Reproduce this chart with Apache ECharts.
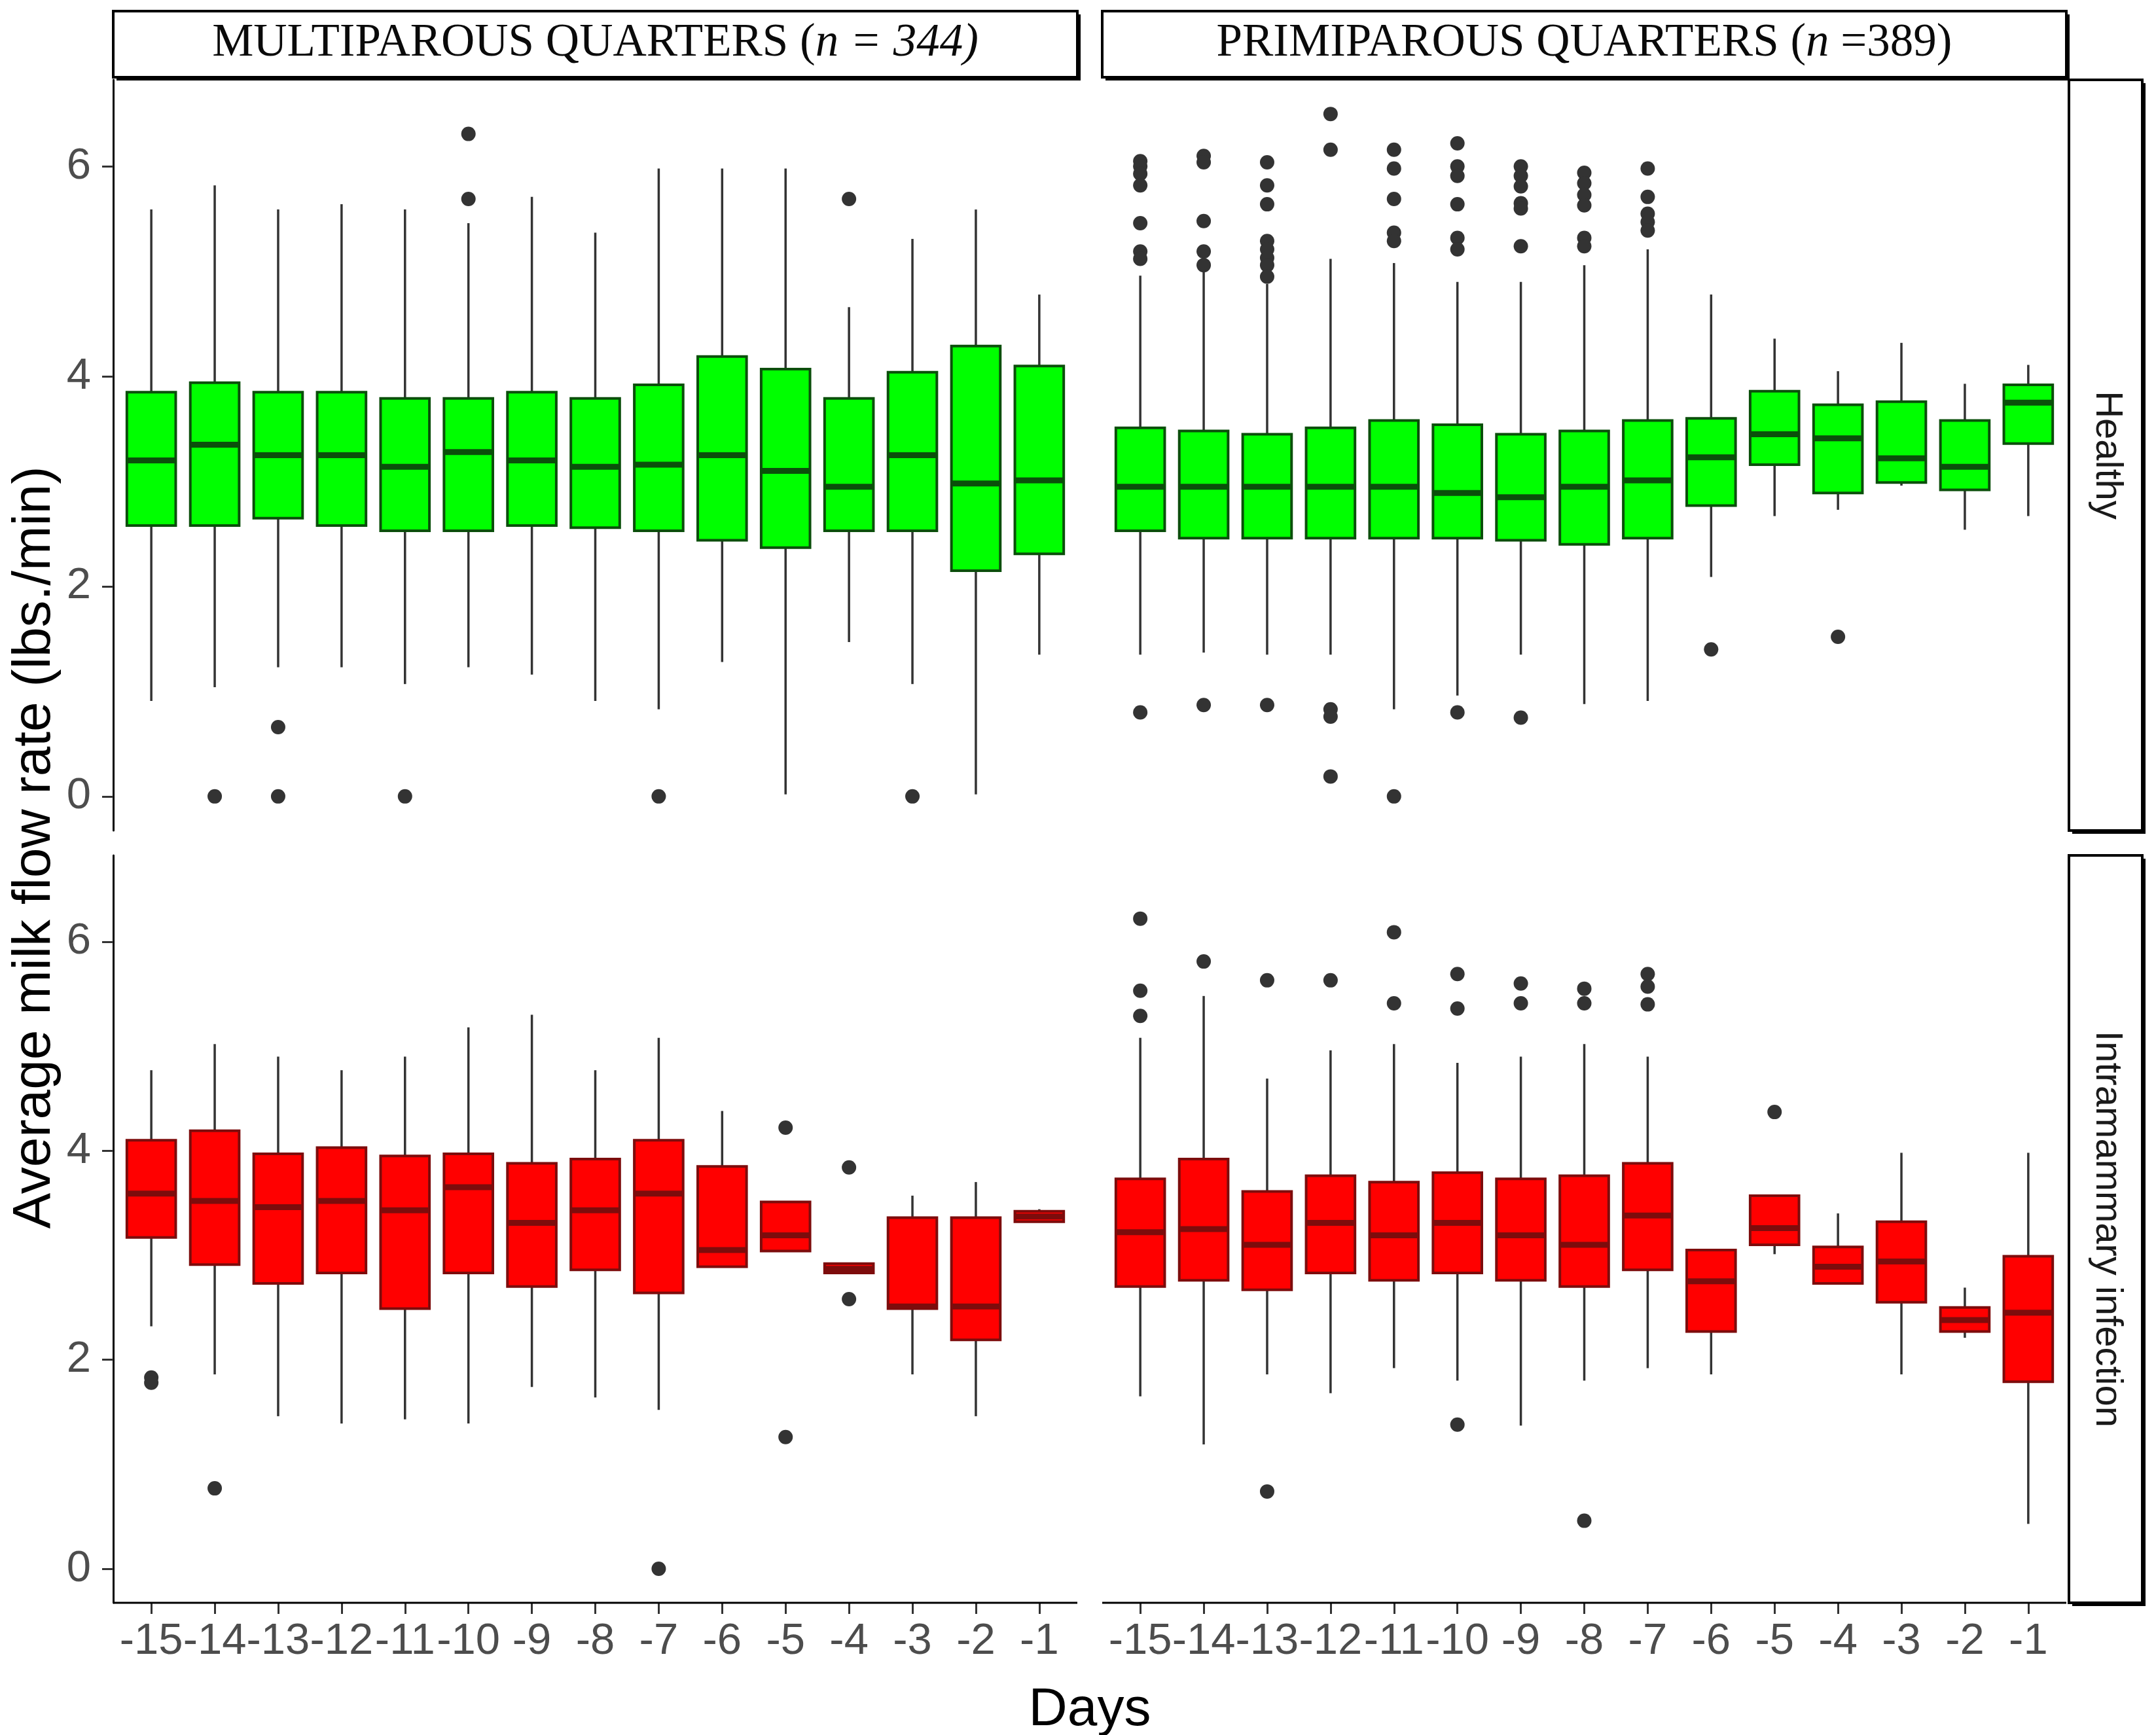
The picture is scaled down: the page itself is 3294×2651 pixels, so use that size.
<!DOCTYPE html>
<html><head><meta charset="utf-8">
<script src="https://cdn.jsdelivr.net/npm/echarts@6/dist/echarts.min.js"></script>
<style>html,body{margin:0;padding:0;background:#fff}#c{width:3294px;height:2651px}</style>
</head><body><div id="c"></div>
<script>
// ---------------- DATA ----------------
const days = ['-15','-14','-13','-12','-11','-10','-9','-8','-7','-6','-5','-4','-3','-2','-1'];
const yTickValues = [0, 2, 4, 6];
const colLabels = ['MULTIPAROUS QUARTERS (', 'PRIMIPAROUS QUARTERS ('];
const rowLabels = ['Healthy', 'Intramammary infection'];

// [lower whisker, Q1, median, Q3, upper whisker] per day
const multiHealthyStats = [
  [0.91,2.58,3.20,3.85,5.59],[1.04,2.58,3.35,3.94,5.82],[1.23,2.65,3.25,3.85,5.59],
  [1.23,2.58,3.25,3.85,5.64],[1.07,2.53,3.14,3.79,5.59],[1.23,2.53,3.28,3.79,5.46],
  [1.16,2.58,3.20,3.85,5.71],[0.91,2.56,3.14,3.79,5.37],[0.83,2.53,3.16,3.92,5.98],
  [1.28,2.44,3.25,4.19,5.98],[0.02,2.37,3.10,4.07,5.98],[1.47,2.53,2.95,3.79,4.66],
  [1.07,2.53,3.25,4.04,5.31],[0.02,2.15,2.98,4.29,5.59],[1.35,2.31,3.01,4.10,4.78]
];
const multiHealthyOutliers = [
  ['-14',0],['-13',0.66],['-13',0],['-11',0],['-10',6.31],['-10',5.69],
  ['-7',0],['-4',5.69],['-3',0]
];
const primiHealthyStats = [
  [1.35,2.53,2.95,3.51,4.96],[1.37,2.46,2.95,3.48,5.00],[1.35,2.46,2.95,3.45,4.88],
  [1.35,2.46,2.95,3.51,5.12],[0.83,2.46,2.95,3.58,5.08],[0.96,2.46,2.89,3.54,4.90],
  [1.35,2.44,2.85,3.45,4.90],[0.88,2.40,2.95,3.48,5.06],[0.91,2.46,3.01,3.58,5.21],
  [2.09,2.77,3.23,3.60,4.78],[2.67,3.16,3.45,3.86,4.36],[2.73,2.89,3.41,3.73,4.05],
  [2.96,2.99,3.22,3.76,4.32],[2.54,2.92,3.14,3.58,3.93],[2.67,3.36,3.75,3.92,4.11]
];
const primiHealthyOutliers = [
  ['-15',6.05],['-15',6.00],['-15',5.93],['-15',5.82],['-15',5.46],['-15',5.19],['-15',5.12],['-15',0.80],
  ['-14',6.10],['-14',6.04],['-14',5.48],['-14',5.19],['-14',5.06],['-14',0.87],
  ['-13',6.04],['-13',5.82],['-13',5.64],['-13',5.29],['-13',5.21],['-13',5.13],['-13',5.06],['-13',4.95],['-13',0.87],
  ['-12',6.50],['-12',6.16],['-12',0.83],['-12',0.76],['-12',0.19],
  ['-11',6.16],['-11',5.98],['-11',5.69],['-11',5.37],['-11',5.29],['-11',0],
  ['-10',6.22],['-10',6.00],['-10',5.91],['-10',5.64],['-10',5.32],['-10',5.21],['-10',0.80],
  ['-9',6.00],['-9',5.91],['-9',5.81],['-9',5.65],['-9',5.60],['-9',5.24],['-9',0.75],
  ['-8',5.94],['-8',5.84],['-8',5.73],['-8',5.63],['-8',5.32],['-8',5.24],
  ['-7',5.98],['-7',5.71],['-7',5.55],['-7',5.47],['-7',5.39],
  ['-6',1.40],['-4',1.52]
];
const multiInfectedStats = [
  [2.32,3.17,3.59,4.10,4.77],[1.86,2.91,3.52,4.19,5.02],[1.46,2.73,3.46,3.97,4.90],
  [1.39,2.83,3.52,4.03,4.77],[1.43,2.49,3.43,3.95,4.90],[1.39,2.83,3.65,3.97,5.18],
  [1.74,2.70,3.31,3.88,5.30],[1.64,2.86,3.43,3.92,4.77],[1.52,2.64,3.59,4.10,5.08],
  [2.89,2.89,3.05,3.85,4.38],[3.04,3.04,3.19,3.51,3.51],[2.83,2.83,2.87,2.92,2.92],
  [1.86,2.49,2.51,3.36,3.57],[1.46,2.19,2.51,3.36,3.70],[3.32,3.32,3.37,3.42,3.44]
];
const multiInfectedOutliers = [
  ['-15',1.83],['-15',1.78],['-14',0.77],['-7',0],['-5',4.22],['-5',1.26],['-4',3.84],['-4',2.58]
];
const primiInfectedStats = [
  [1.65,2.70,3.22,3.73,5.08],[1.19,2.76,3.25,3.92,5.48],[1.86,2.67,3.10,3.61,4.69],
  [1.68,2.83,3.31,3.76,4.96],[1.92,2.76,3.19,3.70,5.02],[1.80,2.83,3.31,3.79,4.84],
  [1.37,2.76,3.19,3.73,4.90],[1.80,2.70,3.10,3.76,5.02],[1.92,2.86,3.38,3.88,4.90],
  [1.86,2.27,2.75,3.05,3.05],[3.01,3.10,3.26,3.57,3.57],[2.73,2.73,2.89,3.08,3.40],
  [1.86,2.55,2.94,3.32,3.98],[2.21,2.27,2.38,2.50,2.69],[0.43,1.79,2.45,2.99,3.98]
];
const primiInfectedOutliers = [
  ['-15',6.22],['-15',5.53],['-15',5.29],['-14',5.81],['-13',5.63],['-13',0.74],['-12',5.63],
  ['-11',6.09],['-11',5.41],['-10',5.69],['-10',5.36],['-10',1.38],['-9',5.60],['-9',5.41],
  ['-8',5.55],['-8',5.41],['-8',0.46],['-7',5.69],['-7',5.57],['-7',5.40],['-5',4.37]
];

// ---------------- LAYOUT ----------------
const colX = [173, 1684];       // panel left edges
const panelW = 1473;
const rowY = [122, 1307];
const rowH = [1147, 1142];
const pad = panelW * 0.1 / 15.2;  // ggplot discrete expansion 0.6 vs ECharts 0.5
const yMin = -0.325, yMax = 6.825;

const panels = [
  {stats: multiHealthyStats, out: multiHealthyOutliers, col: 0, row: 0, fill: '#00ff00', edge: '#0b4f0b'},
  {stats: primiHealthyStats, out: primiHealthyOutliers, col: 1, row: 0, fill: '#00ff00', edge: '#0b4f0b'},
  {stats: multiInfectedStats, out: multiInfectedOutliers, col: 0, row: 1, fill: '#ff0000', edge: '#7d0c0c'},
  {stats: primiInfectedStats, out: primiInfectedOutliers, col: 1, row: 1, fill: '#ff0000', edge: '#7d0c0c'}
];

const tickFont = "'Liberation Sans Narrow', 'Liberation Sans', Arial, sans-serif";

function makeRender(fill, edge) {
  return function (params, api) {
    const x = api.value(0);
    const lo = api.coord([x, api.value(1)]);
    const q1 = api.coord([x, api.value(2)]);
    const md = api.coord([x, api.value(3)]);
    const q3 = api.coord([x, api.value(4)]);
    const hi = api.coord([x, api.value(5)]);
    const bw = api.size([1, 0])[0] * 0.77;
    const cx = lo[0];
    return {
      type: 'group',
      children: [
        {type: 'line', shape: {x1: cx, y1: hi[1], x2: cx, y2: q3[1]}, style: {stroke: '#333', lineWidth: 3.5}},
        {type: 'line', shape: {x1: cx, y1: q1[1], x2: cx, y2: lo[1]}, style: {stroke: '#333', lineWidth: 3.5}},
        {type: 'rect', shape: {x: cx - bw / 2, y: q3[1], width: bw, height: q1[1] - q3[1]},
          style: {fill: fill, stroke: edge, lineWidth: 4}},
        {type: 'line', shape: {x1: cx - bw / 2, y1: md[1], x2: cx + bw / 2, y2: md[1]},
          style: {stroke: edge, lineWidth: 9}}
      ]
    };
  };
}

const grids = [], xAxes = [], yAxes = [], series = [];
panels.forEach((p, i) => {
  grids.push({left: colX[p.col] + pad, width: panelW - 2 * pad, top: rowY[p.row], height: rowH[p.row]});
  const bottom = p.row === 1;
  xAxes.push({
    type: 'category', gridIndex: i, data: days, boundaryGap: true, position: 'bottom',
    axisLine: {show: false, onZero: false},
    axisTick: {show: bottom, alignWithLabel: true, length: 17, lineStyle: {color: '#333', width: 3}},
    axisLabel: {show: bottom, interval: 0, fontSize: 67, color: '#4d4d4d', fontFamily: tickFont, margin: 26},
    splitLine: {show: false}
  });
  const left = p.col === 0;
  yAxes.push({
    type: 'value', gridIndex: i, min: yMin, max: yMax, offset: left ? pad : 0,
    axisLine: {show: left, onZero: false, lineStyle: {color: '#000', width: 3}},
    axisTick: {show: left, customValues: yTickValues, length: 17, lineStyle: {color: '#333', width: 3}},
    axisLabel: {show: left, customValues: yTickValues, fontSize: 67, color: '#4d4d4d', fontFamily: tickFont, margin: 34},
    splitLine: {show: false}
  });
  series.push({
    type: 'custom', xAxisIndex: i, yAxisIndex: i,
    renderItem: makeRender(p.fill, p.edge),
    encode: {x: 0, y: [1, 2, 3, 4, 5]},
    data: p.stats.map((s, k) => [k].concat(s)),
    silent: true
  });
  series.push({
    type: 'scatter', xAxisIndex: i, yAxisIndex: i,
    data: p.out, symbolSize: 22, itemStyle: {color: '#333', opacity: 1}, silent: true
  });
});

// strips and titles
const graphics = [];
function stripBox(x, y, w, h) {
  graphics.push({type: 'rect', shape: {x: x + 5, y: y + 5, width: w, height: h}, style: {fill: '#000'}, z: 10});
  graphics.push({type: 'rect', shape: {x: x, y: y, width: w, height: h}, style: {fill: '#fff', stroke: '#000', lineWidth: 4}, z: 11});
}
[0, 1].forEach(c => {
  stripBox(colX[c], 17, panelW, 101);
  graphics.push({
    type: 'text', z: 12,
    style: {
      x: colX[c] + panelW / 2, y: 66, align: 'center', verticalAlign: 'middle',
      text: c === 0 ? colLabels[0] + '{i|n = 344)}' : colLabels[1] + '{i|n} =389)',
      font: "71px 'Liberation Serif', 'Times New Roman', serif", fill: '#0a0a0a',
      rich: {i: {fontStyle: 'italic', fontSize: 71, fontFamily: "'Liberation Serif', serif", fill: '#0a0a0a'}}
    }
  });
});
[0, 1].forEach(r => {
  stripBox(3161, rowY[r], 112, rowH[r]);
  graphics.push({
    type: 'text', z: 12, x: 3219, y: rowY[r] + rowH[r] / 2, rotation: -Math.PI / 2,
    style: {
      x: 0, y: 0, align: 'center', verticalAlign: 'middle', text: rowLabels[r],
      font: "58px 'Liberation Sans', Arial, sans-serif", fill: '#1a1a1a'
    }
  });
});
// x axis lines (full panel width)
[0, 1].forEach(c => {
  graphics.push({type: 'line', shape: {x1: colX[c], y1: rowY[1] + rowH[1], x2: colX[c] + panelW, y2: rowY[1] + rowH[1]},
    style: {stroke: '#000', lineWidth: 3}, z: 5});
});
// axis titles
graphics.push({
  type: 'text', x: 53, y: 1295, rotation: Math.PI / 2,
  style: {x: 0, y: 0, align: 'center', verticalAlign: 'middle', text: 'Average milk flow rate (lbs./min)',
    font: "82px 'Liberation Sans', Arial, sans-serif", fill: '#000'}
});
graphics.push({
  type: 'text',
  style: {x: 1665, y: 2613, align: 'center', verticalAlign: 'middle', text: 'Days',
    font: "82px 'Liberation Sans', Arial, sans-serif", fill: '#000'}
});

const chart = echarts.init(document.getElementById('c'), null, {renderer: 'canvas'});
chart.setOption({
  backgroundColor: '#fff',
  animation: false,
  grid: grids, xAxis: xAxes, yAxis: yAxes, series: series,
  graphic: graphics
});
</script></body></html>
